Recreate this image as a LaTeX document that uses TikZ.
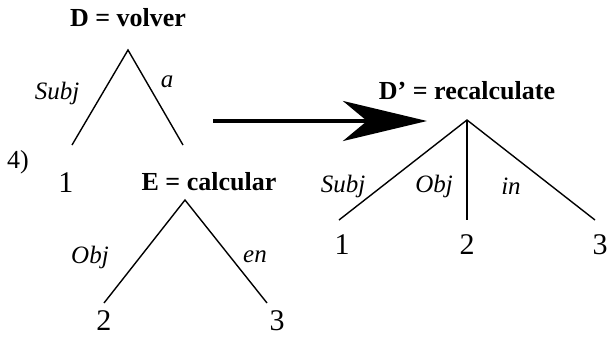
\documentclass[tikz,border=0pt]{standalone}
\usepackage{fontspec}
\setmainfont{Liberation Serif}
\usetikzlibrary{arrows.meta}

\tikzset{
  treehead/.style={font=\fontsize{13}{15}\selectfont\bfseries, inner sep=1pt},
  rellabel/.style={font=\fontsize{12.5}{14}\selectfont\itshape, inner sep=1pt},
  leafnum/.style={font=\fontsize{15}{17}\selectfont, inner sep=1pt},
  branch/.style={line width=0.7pt}
}

\begin{document}
\begin{tikzpicture}[x=0.5pt, y=-0.5pt]
    \useasboundingbox (0,0) rectangle (612,338);

    %Tree for D = volver
    \node[treehead] (dhead) at (128,18) {D = volver};
    \coordinate (dtop) at (128,50);
    \coordinate (dleft) at (72,145);
    \coordinate (dright) at (183,145);
    \draw[branch] (dleft) -- (dtop) -- (dright);
    \node[rellabel] (dsubj) at (57,93) {Subj};
    \node[rellabel] (da) at (167,82) {a};

    % Example number
    \node[leafnum, font=\fontsize{13}{15}\selectfont] (exnum) at (18,162) {4)};
    \node[leafnum] (done) at (66,183) {1};

    %Tree for E = calcular
    \node[treehead] (ehead) at (209,182) {E = calcular};
    \coordinate (etop) at (185,200);
    \coordinate (eleft) at (104,303);
    \coordinate (eright) at (267,303);
    \draw[branch] (eleft) -- (etop) -- (eright);
    \node[rellabel] (eobj) at (90,257) {Obj};
    \node[rellabel] (een) at (255,257) {en};
    \node[leafnum] (etwo) at (104,321) {2};
    \node[leafnum] (ethree) at (277,321) {3};

    % The big arrow
    \coordinate (arrstart) at (213,121);
    \coordinate (arrend) at (427,121);
    \draw[line width=2pt, -{Stealth[length=42pt, width=20pt, inset=12pt]}] (arrstart) -- (arrend);

    %Tree for D' = recalculate
    \node[treehead] (rhead) at (467,91) {D’ = recalculate};
    \coordinate (rtop) at (467,120);
    \coordinate (rleft) at (339,220);
    \coordinate (rmid) at (467,220);
    \coordinate (rright) at (595,220);
    \draw[branch] (rleft) -- (rtop) -- (rright);
    \draw[branch] (rtop) -- (rmid);
    \node[rellabel] (rsubj) at (343,186) {Subj};
    \node[rellabel] (robj) at (434,186) {Obj};
    \node[rellabel] (rin) at (511,186) {in};
    \node[leafnum] (rone) at (342,245) {1};
    \node[leafnum] (rtwo) at (467,245) {2};
    \node[leafnum] (rthree) at (600,245) {3};
\end{tikzpicture}
\end{document}
